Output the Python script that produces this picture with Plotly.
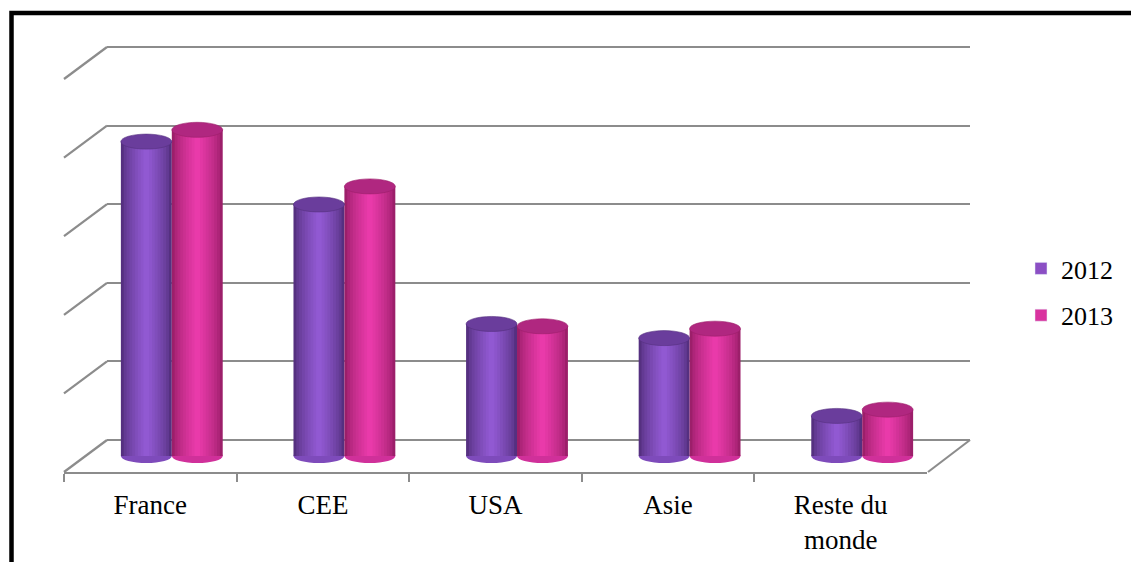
import plotly.graph_objects as go

CATEGORIES = ["France", "CEE", "USA", "Asie", "Reste du<br>monde"]
SERIES = ["2012", "2013"]
VALUES_2012 = [4.00, 3.20, 1.68, 1.50, 0.51]
VALUES_2013 = [4.15, 3.43, 1.65, 1.62, 0.59]
GRID_VALUES = [0, 1, 2, 3, 4, 5]

W, H = 1131, 562
FONT = "Liberation Serif"
GRID_COL = "#8c8c8c"

UNIT = 78.6            # pixels per value unit
BACK_X = (107, 970)    # back wall, pixel x extent
BACK_Y0 = 440          # pixel y of value 0 on back wall
DEPTH_DX, DEPTH_DY = -43, 32   # front offset of the floor
BACK_RANGE = [-0.03, 5.03]
MID_RANGE = [-0.13, 5.0]

def px_x(p):
    return p / W

def px_y(p):
    return 1 - p / H

def back_val_px(v):
    return BACK_Y0 - v * UNIT

def mix(c1, c2, t):
    a = [int(c1[i:i + 2], 16) for i in (1, 3, 5)]
    b = [int(c2[i:i + 2], 16) for i in (1, 3, 5)]
    return "#" + "".join(f"{round(a[i] + (b[i] - a[i]) * t):02x}" for i in range(3))

STYLE = {
    "2012": dict(edge="#553080", light="#9159d2", cap="#6a3d9c", base="#7e4bbb", legend="#8b4fc4"),
    "2013": dict(edge="#9c1f6a", light="#e93aaa", cap="#b02780", base="#d0309a", legend="#d9339f"),
}

fig = go.Figure()

# Back wall axis (gridlines)
fig.add_trace(go.Scatter(x=[None], y=[None], xaxis="x", yaxis="y", showlegend=False, hoverinfo="skip"))

n = len(CATEGORIES)
xs = list(range(n))
BAR_W = 0.295
K = 9
shapes = []
for s_idx, (name, vals) in enumerate(zip(SERIES, [VALUES_2012, VALUES_2013])):
    st = STYLE[name]
    base_off = -BAR_W if s_idx == 0 else 0.0
    c = 0.5
    for k in range(K):
        f = 1 - k / K
        t = (k / (K - 1)) ** 0.7
        left = c - f * c
        fig.add_trace(go.Bar(
            x=xs, y=vals, xaxis="x2", yaxis="y2",
            offset=base_off + left * BAR_W, width=f * BAR_W,
            marker=dict(color=mix(st["edge"], st["light"], t), line=dict(width=0)),
            showlegend=False, hoverinfo="skip",
        ))
    for i, v in enumerate(vals):
        x0 = xs[i] + base_off
        x1 = x0 + BAR_W
        shapes.append(dict(type="circle", xref="x2", yref="y2", ysizemode="pixel", yanchor=0,
                           x0=x0, x1=x1, y0=-7, y1=7, fillcolor=st["base"],
                           line=dict(width=0), layer="below"))
        shapes.append(dict(type="circle", xref="x2", yref="y2", ysizemode="pixel", yanchor=v,
                           x0=x0, x1=x1, y0=-7.5, y1=7.5, fillcolor=st["cap"],
                           line=dict(width=0.6, color=st["edge"]), layer="above"))

for name in SERIES:
    fig.add_trace(go.Bar(x=[None], y=[None], xaxis="x2", yaxis="y2", name=name,
                         marker=dict(color=STYLE[name]["legend"]), legendgroup=name))

fig.add_trace(go.Scatter(x=CATEGORIES, y=[0] * n, xaxis="x3", yaxis="y3", mode="markers",
                         marker=dict(opacity=0), showlegend=False, hoverinfo="skip"))

# Left diagonals from each back gridline
for g in GRID_VALUES:
    yb = back_val_px(g)
    shapes.append(dict(type="line", xref="paper", yref="paper",
                       x0=px_x(BACK_X[0]), y0=px_y(yb),
                       x1=px_x(BACK_X[0] + DEPTH_DX), y1=px_y(yb + DEPTH_DY),
                       line=dict(color=GRID_COL, width=2.2), layer="below"))
# Right floor diagonal
yb0 = back_val_px(0)
shapes.append(dict(type="line", xref="paper", yref="paper",
                   x0=px_x(BACK_X[1]), y0=px_y(yb0),
                   x1=px_x(BACK_X[1] + DEPTH_DX + 1), y1=px_y(yb0 + DEPTH_DY),
                   line=dict(color=GRID_COL, width=2.2), layer="below"))
# Outer black frame
shapes.append(dict(type="rect", xref="paper", yref="paper", x0=px_x(11.5), x1=1.05,
                   y0=-0.05, y1=px_y(13), line=dict(color="black", width=4.5),
                   fillcolor="rgba(0,0,0,0)", layer="above"))

back_dom = [px_y(back_val_px(BACK_RANGE[0])), px_y(back_val_px(BACK_RANGE[1]))]
mid_y0 = BACK_Y0 + DEPTH_DY / 2
mid_dom = [px_y(mid_y0 - MID_RANGE[0] * UNIT), px_y(mid_y0 - MID_RANGE[1] * UNIT)]
mid_x = (BACK_X[0] + DEPTH_DX / 2, BACK_X[1] + DEPTH_DX / 2)
front_x = (BACK_X[0] + DEPTH_DX, BACK_X[1] + DEPTH_DX)
front_y = BACK_Y0 + DEPTH_DY

fig.update_layout(
    width=W, height=H,
    margin=dict(l=0, r=0, t=0, b=0),
    paper_bgcolor="white", plot_bgcolor="rgba(0,0,0,0)",
    barmode="overlay",
    font=dict(family=FONT, size=27, color="black"),
    shapes=shapes,
    showlegend=True,
    legend=dict(x=px_x(1021), y=px_y(292), xanchor="left", yanchor="middle",
                font=dict(family=FONT, size=26), tracegroupgap=10,
                bgcolor="rgba(0,0,0,0)"),
    xaxis=dict(domain=[px_x(BACK_X[0]), px_x(BACK_X[1])], range=[-0.5, 4.5], visible=False,
               showgrid=False, zeroline=False, fixedrange=True),
    yaxis=dict(domain=back_dom, range=BACK_RANGE, tickvals=GRID_VALUES,
               showticklabels=False, showgrid=True, gridcolor=GRID_COL, gridwidth=2.2,
               zeroline=False, showline=False, ticks="", fixedrange=True),
    xaxis2=dict(domain=[px_x(mid_x[0]), px_x(mid_x[1])], range=[-0.5, 4.5], anchor="y2",
                visible=False, showgrid=False, zeroline=False),
    yaxis2=dict(domain=mid_dom, range=MID_RANGE, anchor="x2",
                visible=False, showgrid=False, zeroline=False),
    xaxis3=dict(domain=[px_x(front_x[0]), px_x(front_x[1])], anchor="y3", type="category",
                categoryarray=CATEGORIES, categoryorder="array",
                range=[-0.5, 4.5], tickson="boundaries", ticks="outside", ticklen=8,
                tickwidth=2, tickcolor=GRID_COL, showline=True, linecolor=GRID_COL,
                linewidth=2.2, showgrid=False, zeroline=False, ticklabelstandoff=7,
                tickfont=dict(family=FONT, size=27, color="black")),
    yaxis3=dict(domain=[px_y(front_y), px_y(front_y) + 0.05], anchor="x3", range=[0, 1],
                visible=False, showgrid=False, zeroline=False),
)

fig.write_html("out.html")
